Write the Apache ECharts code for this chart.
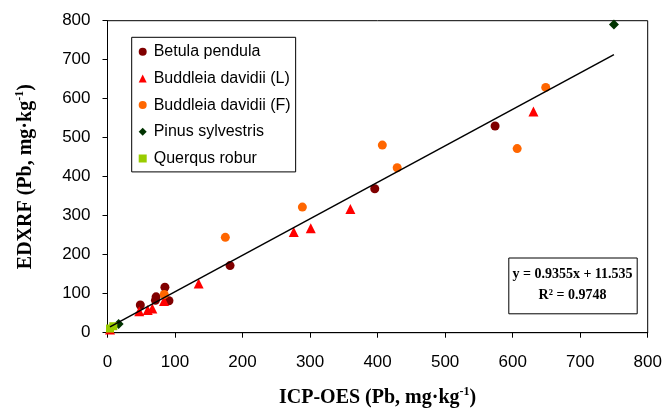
<!DOCTYPE html>
<html>
<head>
<meta charset="utf-8">
<title>EDXRF vs ICP-OES (Pb)</title>
<script src="https://cdn.jsdelivr.net/npm/echarts@6/dist/echarts.min.js"></script>
<style>
  html, body { margin: 0; padding: 0; background: #fff; }
  #chart { width: 667px; height: 409px; }
</style>
</head>
<body>
<div id="chart"></div>
<script>
// Pb concentrations, mg·kg-1: [ICP-OES, EDXRF] pairs per species
const betulaPendula = [[48.6, 71], [72, 92], [71, 83], [91, 82], [85, 116.5], [181.5, 172], [395.8, 369], [574, 530]];
const buddleiaLeaves = [[3.7, 8], [47, 55], [59.5, 58], [66.4, 62], [83.7, 81], [135, 126], [275.8, 258], [301, 268], [359.7, 317], [630.8, 567]];
const buddleiaFlowers = [[84, 98], [174.5, 244.5], [288.6, 322], [407, 481], [429, 423], [606.7, 472], [649, 629]];
const pinusSylvestris = [[16.5, 22.5], [750, 790]];
const quercusRobur = [[3.7, 10.7], [8.6, 16.6]];

const seriesNames = ['Betula pendula', 'Buddleia davidii (L)', 'Buddleia davidii (F)', 'Pinus sylvestris', 'Querqus robur'];

// Linear fit reported in the box: y = slope·x + intercept
const slope = 0.9355;
const intercept = 11.535;
const rSquared = 0.9748;
const fitRange = [3.7, 750];
const fitLine = fitRange.map(x => [x, slope * x + intercept]);

const axisTicks = { min: 0, max: 800, interval: 100 };

const chart = echarts.init(document.getElementById('chart'), null, { renderer: 'canvas' });

const labelFont = { fontFamily: 'Liberation Sans, Arial, sans-serif', fontSize: 17, color: '#000' };
const titleFont = { fontFamily: 'Liberation Serif, Times New Roman, serif', fontWeight: 'bold', fontSize: 20, color: '#000' };
const supStyle = {
  sup: { fontFamily: 'Liberation Serif, Times New Roman, serif', fontWeight: 'bold', fontSize: 12, color: '#000', verticalAlign: 'top', lineHeight: 12 },
  n: Object.assign({ lineHeight: 24 }, titleFont)
};

function scatter(name, data, symbol, color, size) {
  return {
    name, type: 'scatter', data, symbol, symbolSize: size,
    itemStyle: { color, opacity: 1 },
    emphasis: { disabled: true }
  };
}

chart.setOption({
  animation: false,
  backgroundColor: '#fff',
  grid: {
    left: 107.5, right: 19.3, top: 20.7, bottom: 76.3,
    show: true, borderColor: '#000', borderWidth: 1,
    containLabel: false, outerBoundsMode: 'none'
  },
  legend: {
    data: seriesNames.map((n, i) => ({ name: n, icon: ['circle', 'triangle', 'circle', 'diamond', 'rect'][i] })),
    orient: 'vertical',
    left: 131.7, top: 37.3,
    itemWidth: 8, itemHeight: 8, itemGap: 10.7,
    padding: [6.4, 5, 5.4, 7],
    borderColor: '#000', borderWidth: 1,
    backgroundColor: '#fff',
    textStyle: { fontFamily: 'Liberation Sans, Arial, sans-serif', fontSize: 16, lineHeight: 16, color: '#000', padding: [0, 0, 0, 2] },
    selectedMode: false
  },
  xAxis: {
    type: 'value', ...axisTicks,
    name: '{n|ICP-OES (Pb, mg·kg}{sup|-1}{n|)}',
    nameLocation: 'middle', nameGap: 53,
    nameTextStyle: Object.assign({ rich: supStyle }, titleFont),
    axisLine: { show: true, lineStyle: { color: '#000', width: 1 } },
    axisTick: { show: true, inside: false, length: 5, lineStyle: { color: '#000' } },
    axisLabel: Object.assign({ margin: 21 }, labelFont),
    splitLine: { show: false }
  },
  yAxis: {
    type: 'value', ...axisTicks,
    name: '{n|EDXRF (Pb, mg·kg}{sup|-1}{n|)}',
    nameLocation: 'middle', nameGap: 70,
    nameTextStyle: Object.assign({ rich: supStyle }, titleFont),
    axisLine: { show: true, lineStyle: { color: '#000', width: 1 } },
    axisTick: { show: true, inside: false, length: 5, lineStyle: { color: '#000' } },
    axisLabel: Object.assign({ margin: 17 }, labelFont),
    splitLine: { show: false }
  },
  series: [
    scatter(seriesNames[0], betulaPendula, 'circle', '#800000', 9),
    scatter(seriesNames[1], buddleiaLeaves, 'triangle', '#FF0000', 10),
    scatter(seriesNames[2], buddleiaFlowers, 'circle', '#FF6600', 9),
    scatter(seriesNames[3], pinusSylvestris, 'diamond', '#003300', 10),
    scatter(seriesNames[4], quercusRobur, 'rect', '#99CC00', 8),
    {
      name: 'fit', type: 'line', data: fitLine, showSymbol: false, symbol: 'none',
      lineStyle: { color: '#000', width: 1.5 }, z: 5, silent: true
    }
  ],
  graphic: [
    {
      type: 'rect', left: 508.3, top: 257.5,
      shape: { width: 128.4, height: 55.8 },
      style: { fill: '#fff', stroke: '#000', lineWidth: 1 }, z: 10
    },
    {
      type: 'text', x: 572.5, y: 274.3, z: 11,
      style: {
        text: 'y = ' + slope + 'x + ' + intercept,
        align: 'center', verticalAlign: 'middle',
        font: 'bold 14px "Liberation Serif", "Times New Roman", serif', fill: '#000'
      }
    },
    {
      type: 'text', x: 572.5, y: 295.7, z: 11,
      style: {
        text: 'R² = ' + rSquared,
        align: 'center', verticalAlign: 'middle',
        font: 'bold 14px "Liberation Serif", "Times New Roman", serif', fill: '#000'
      }
    }
  ]
});
</script>
</body>
</html>
